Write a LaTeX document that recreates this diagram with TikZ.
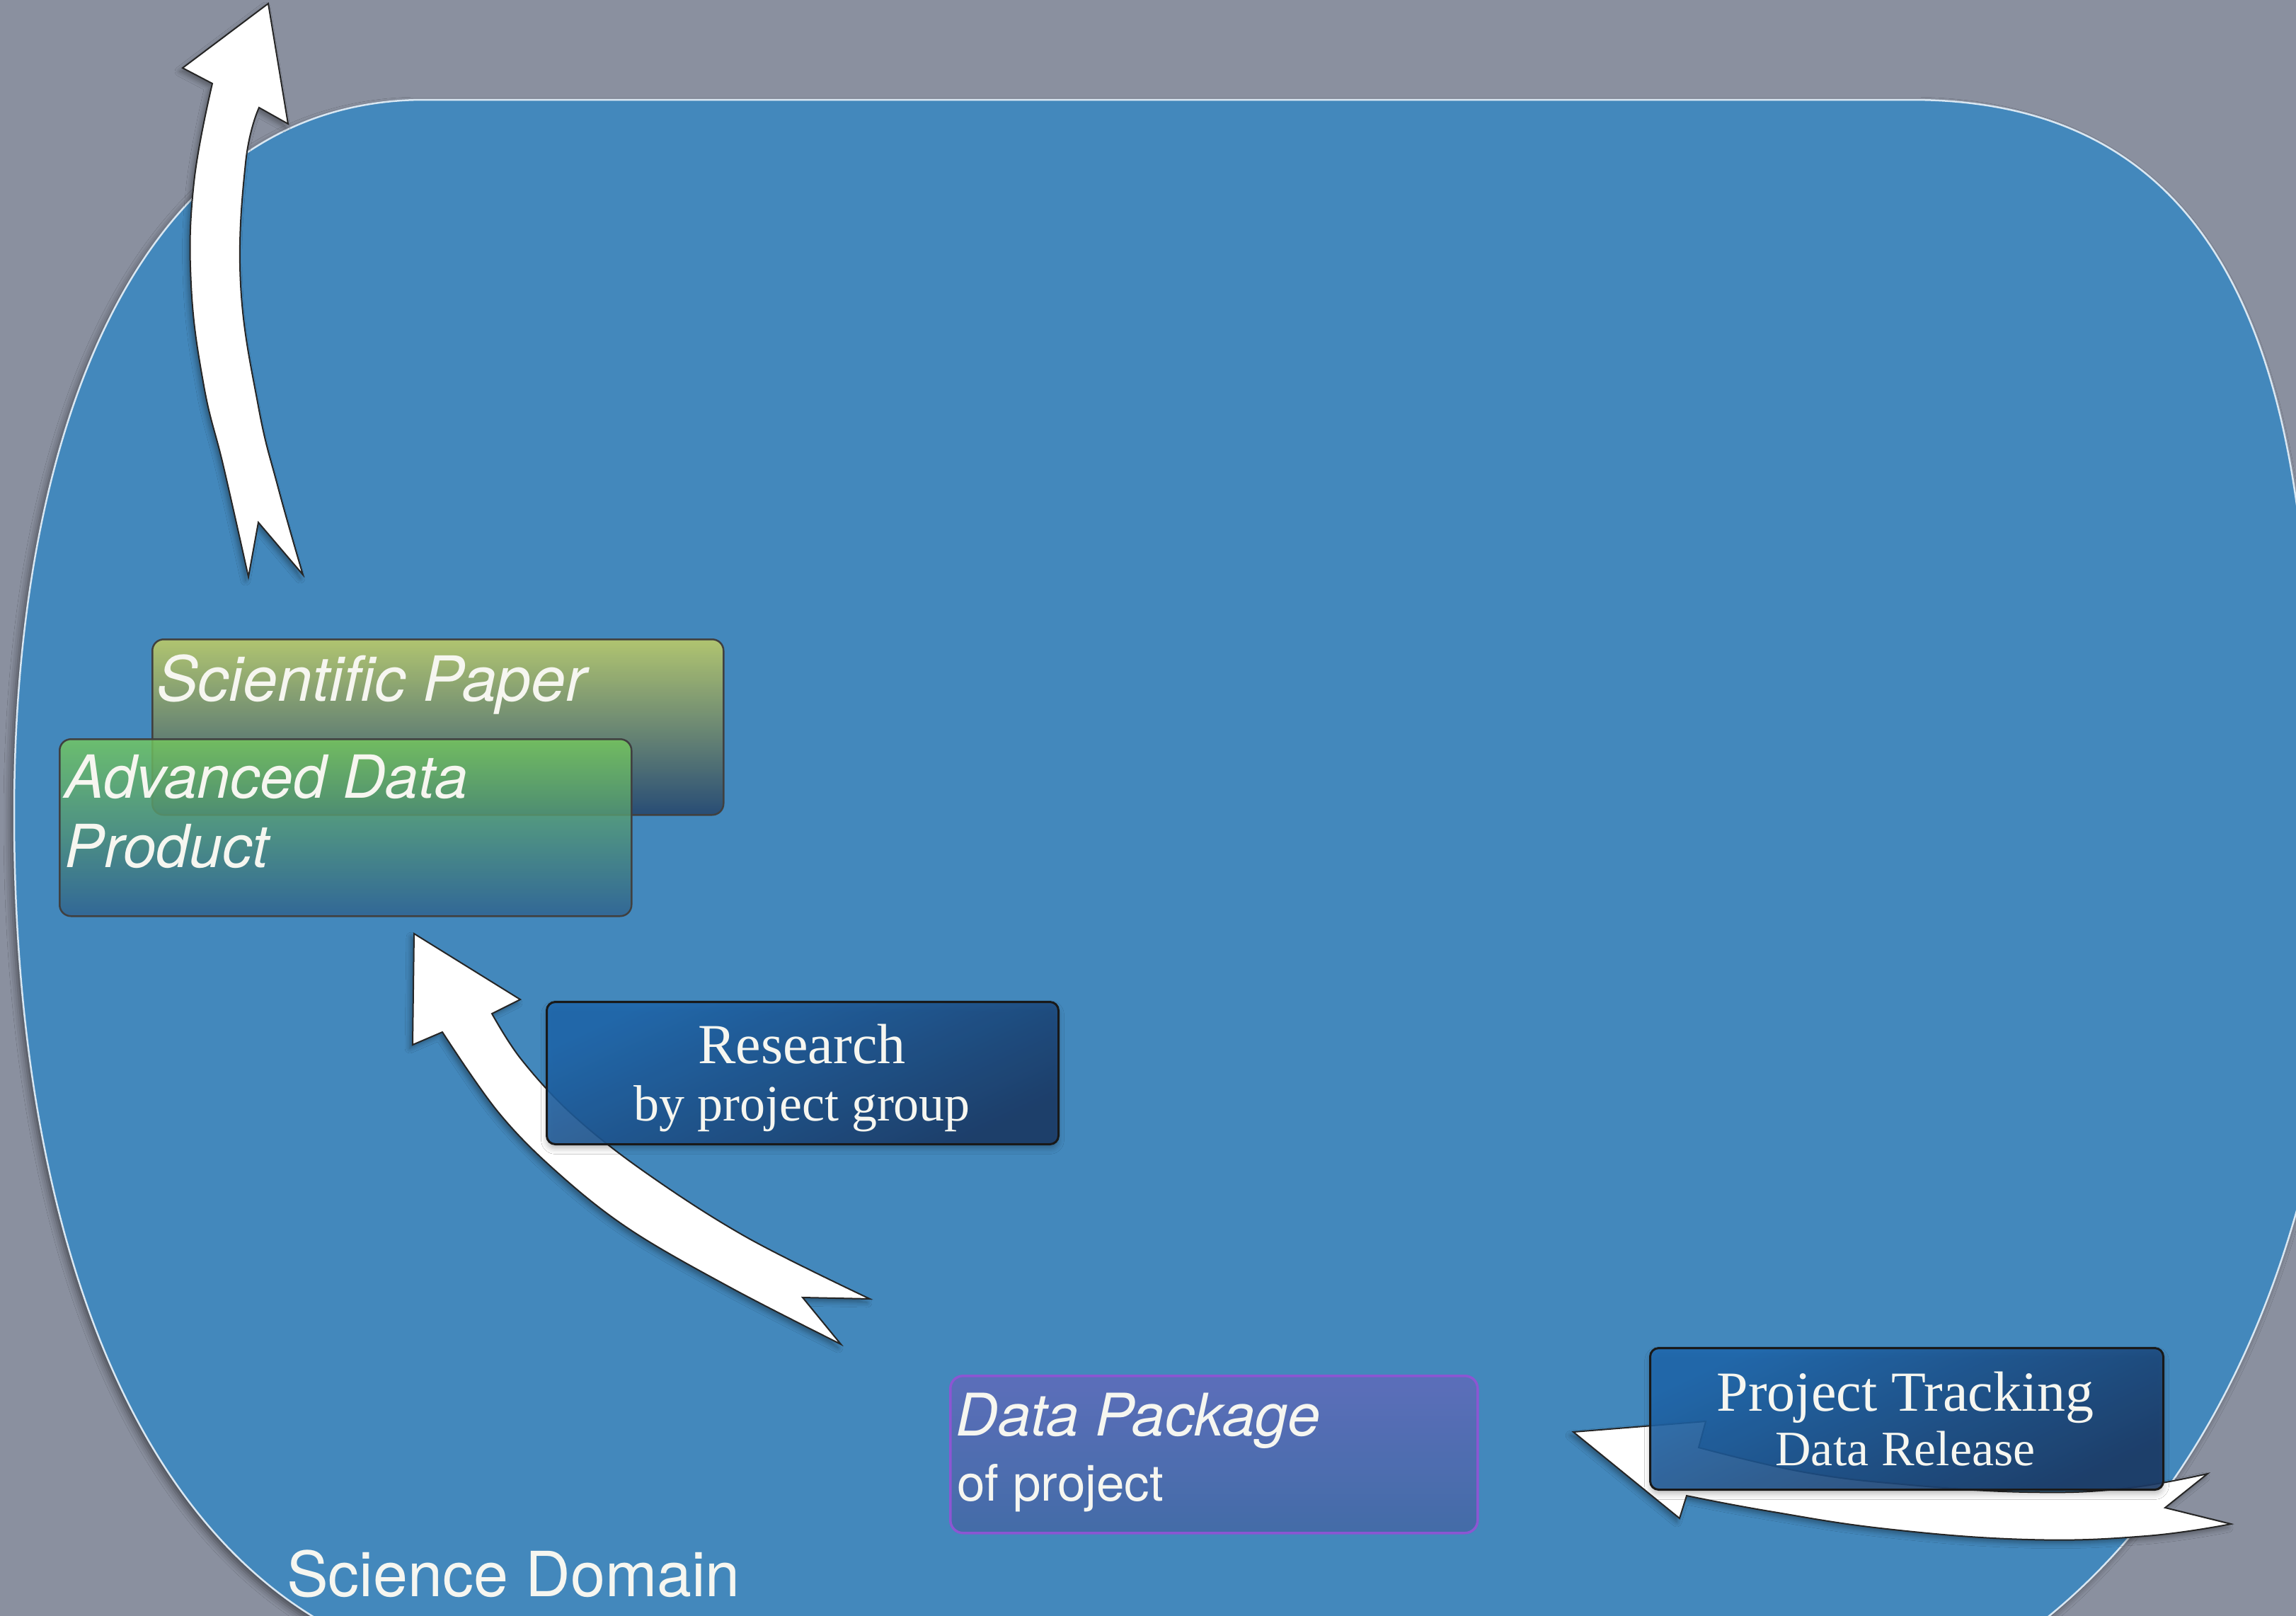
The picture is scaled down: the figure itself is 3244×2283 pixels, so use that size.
\documentclass[tikz,border=0pt]{standalone}
\usepackage{fontspec}
\setmainfont{Liberation Serif}
\setsansfont{TeX Gyre Heros}
\usetikzlibrary{shadows.blur}

\definecolor{bggray}{RGB}{138,144,159}
\definecolor{domain}{RGB}{67,136,188}
\definecolor{navyA}{RGB}{31,104,174}
\definecolor{navyB}{RGB}{27,58,102}
\definecolor{paperTop}{RGB}{186,202,106}
\definecolor{paperBot}{RGB}{38,72,112}
\definecolor{adpTop}{RGB}{118,203,92}
\definecolor{adpBot}{RGB}{46,96,142}
\definecolor{pkgTop}{RGB}{94,108,186}
\definecolor{pkgBot}{RGB}{68,106,166}
\definecolor{pkgEdge}{RGB}{140,86,210}
\definecolor{labelwhite}{RGB}{246,246,240}

\tikzset{
  fatarrow/.style={fill=white, draw=black!85, line width=2pt, line join=miter,
    blur shadow={shadow xshift=-4pt, shadow yshift=-5pt, shadow blur radius=7pt, shadow opacity=35}},
  basebox/.style={rectangle, anchor=north west, inner sep=0pt},
  navybox/.style={basebox, rounded corners=12pt, draw=black!90, line width=3pt,
    top color=navyA, bottom color=navyB, shading angle=25, fill opacity=0.88,
    blur shadow={shadow xshift=0pt, shadow yshift=-6pt, shadow blur radius=8pt, shadow opacity=30}},
  paperbox/.style={basebox, rounded corners=16pt, draw=black!75, line width=2.5pt,
    top color=paperTop, bottom color=paperBot, fill opacity=0.92},
  adpbox/.style={basebox, rounded corners=16pt, draw=black!75, line width=2.5pt,
    top color=adpTop, bottom color=adpBot, fill opacity=0.8},
  pkgbox/.style={basebox, rounded corners=18pt, draw=pkgEdge, line width=3.5pt,
    top color=pkgTop, bottom color=pkgBot, fill opacity=0.92},
  sanslabel/.style={anchor=base west, inner sep=0pt, text=labelwhite},
  seriflabel/.style={anchor=base, inner sep=0pt, text=labelwhite},
}

\begin{document}
\begin{tikzpicture}[x=1pt,y=-1pt]
  \useasboundingbox (0,0) rectangle (3244,2283);
  \clip (0,0) rectangle (3244,2283);
  \fill[bggray] (0,0) rectangle (3244,2283);

  % the science domain region
  \path[fill=domain, draw=white!80!domain, line width=2.5pt,
        blur shadow={shadow xshift=-5pt, shadow yshift=-6pt, shadow blur radius=10pt, shadow opacity=45}]
    (600,141) -- (2700,141)
    .. controls (3020,141) and (3190,330) .. (3244,706)
    .. controls (3298,1082) and (3330,1300) .. (3290,1500)
    .. controls (3230,1900) and (3050,2200) .. (2800,2350)
    -- (600,2350)
    .. controls (200,2250) and (20,1750) .. (20,1150)
    .. controls (20,600) and (200,141) .. (600,141) -- cycle;

  \node[sanslabel, font=\sffamily\fontsize{88}{100}\selectfont] (domainlabel) at (405,2255) {Science Domain};

  % arrow leaving the domain
  \path[fatarrow] (379,5) -- (407,175) -- (366,152)
    -- plot[smooth, tension=0.7] coordinates {(366,152) (347,230) (340,402) (365,574) (393,689) (428,812)}
    -- (365,738) -- (351,815)
    -- plot[smooth, tension=0.7] coordinates {(351,815) (316,660) (288,545) (270,402) (274,258) (300,118)}
    -- (258,96) -- cycle;

  % arrow from research to advanced data product
  \path[fatarrow] (585,1319) -- (735,1412) -- (695,1432)
    -- plot[smooth, tension=0.6] coordinates {(695,1432) (736,1496) (808,1574) (910,1655) (1055,1748) (1229,1835)}
    -- (1134,1833) -- (1188,1899)
    -- plot[smooth, tension=0.6] coordinates {(1188,1899) (1034,1820) (890,1737) (786,1655) (703,1570) (625,1458)}
    -- (583,1476) -- cycle;

  % arrow of the data release
  \path[fatarrow] (2223,2023) -- (2410,2008) -- (2400,2045)
    -- plot[smooth, tension=0.7] coordinates {(2400,2045) (2550,2080) (2700,2098) (2866,2108) (3000,2103) (3119,2082)}
    -- (3059,2130) -- (3152,2153)
    -- plot[smooth, tension=0.7] coordinates {(3152,2153) (3032,2170) (2866,2175) (2666,2160) (2500,2135) (2383,2113)}
    -- (2373,2145) -- cycle;

  % products
  \node[paperbox, minimum width=807pt, minimum height=248pt] (paper) at (214,902) {};
  \node[sanslabel, font=\sffamily\itshape\fontsize{88}{100}\selectfont] (papertext) at (221,990) {Scientific Paper};

  \node[adpbox, minimum width=808pt, minimum height=250pt] (adp) at (83,1043) {};
  \node[sanslabel, font=\sffamily\itshape\fontsize{84}{98}\selectfont] (adptext1) at (91,1127) {Advanced Data};
  \node[sanslabel, font=\sffamily\itshape\fontsize{84}{98}\selectfont] (adptext2) at (91,1225) {Product};

  \node[pkgbox, minimum width=745pt, minimum height=222pt] (pkg) at (1341,1942) {};
  \node[sanslabel, font=\sffamily\itshape\fontsize{83}{95}\selectfont] (pkgtext1) at (1350,2028) {Data Package};
  \node[sanslabel, font=\sffamily\fontsize{71}{85}\selectfont] (pkgtext2) at (1352,2120) {of project};

  % activities
  \node[navybox, minimum width=723pt, minimum height=201pt] (research) at (771,1414) {};
  \node[seriflabel, font=\fontsize{80}{90}\selectfont] (researchtext1) at (1133,1502) {Research};
  \node[seriflabel, font=\fontsize{72}{84}\selectfont] (researchtext2) at (1133,1583) {by project group};

  \node[navybox, minimum width=725pt, minimum height=200pt] (tracking) at (2330,1903) {};
  \node[seriflabel, font=\fontsize{80}{90}\selectfont] (trackingtext1) at (2692,1993) {Project Tracking};
  \node[seriflabel, font=\fontsize{70}{82}\selectfont] (trackingtext2) at (2692,2070) {Data Release};
\end{tikzpicture}
\end{document}
